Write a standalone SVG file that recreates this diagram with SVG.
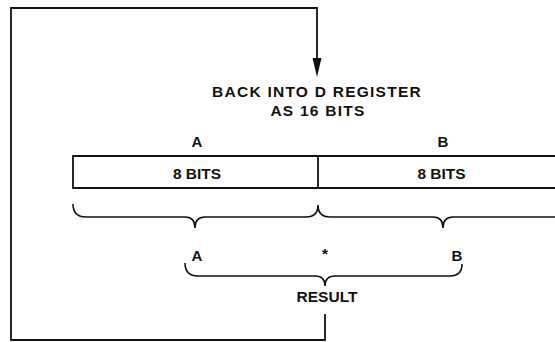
<svg xmlns="http://www.w3.org/2000/svg" width="555" height="342" viewBox="0 0 555 342">
<style>
text{font-family:"Liberation Sans",Arial,sans-serif;font-weight:bold;fill:#111;text-anchor:middle}
.t{font-size:15.5px;letter-spacing:1.25px}
.l{font-size:15px}
.v{font-size:15.5px}
.ln{fill:none;stroke:#111;stroke-width:1.8}
.br{fill:none;stroke:#111;stroke-width:1.6}
.ah{fill:#111}
</style>
<g id="connectors">
<path class="ln" d="M325,314 L325,340 L11,340 L11,8 L317,8 L317,60"/>
<polygon class="ah" points="312.5,58 321.5,58 317,77"/>
</g>
<g id="title">
<text class="t" x="317" y="97">BACK INTO D REGISTER</text>
<text class="t" x="318" y="116">AS 16 BITS</text>
</g>
<g id="register">
<text class="l" x="197" y="147">A</text>
<text class="l" x="443" y="147">B</text>
<path class="ln" d="M555,156 L73,156 L73,188 L555,188 M318,156 L318,188"/>
<text class="v" x="197" y="179">8 BITS</text>
<text class="v" x="441.5" y="179">8 BITS</text>
</g>
<g id="brace-top">
<path class="br" d="M73,204 Q73,217 86,217 L185,217 Q195,217 195,228 Q195,217 205,217 L306,217 Q318,217 318,205 Q318,217 330,217 L433,217 Q443,217 443,228 Q443,217 453,217 L555,217"/>
</g>
<g id="product">
<text class="l" x="197" y="261">A</text>
<text class="l" x="325" y="259">*</text>
<text class="l" x="457" y="261">B</text>
</g>
<g id="brace-bottom">
<path class="br" d="M185,263 Q185,276 198,276 L315,276 Q325,276 325,286 Q325,276 335,276 L450,276 Q462,276 462,264"/>
</g>
<g id="result">
<text class="v" x="327" y="302">RESULT</text>
</g>
</svg>
